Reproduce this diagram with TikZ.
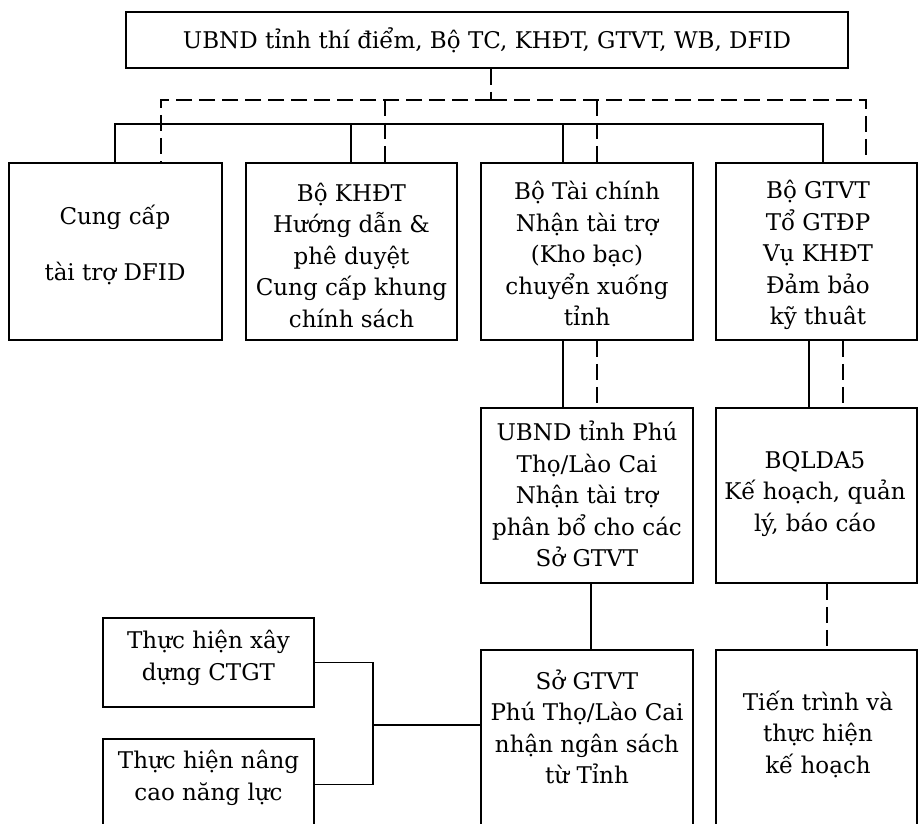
\documentclass[tikz,border=0pt]{standalone}
\usepackage{fontspec}
\setmainfont{DejaVu Serif}
\begin{document}
\begin{tikzpicture}[x=1pt,y=-1pt,
  box/.style={draw=black,line width=1.8pt,rectangle,inner sep=0pt},
  lbl/.style={inner sep=0pt,align=center,font={\fontsize{23}{31.5}\selectfont}},
  sl/.style={draw=black,line width=1.8pt},
  dl/.style={draw=black,line width=1.8pt,dash pattern=on 16pt off 7pt}]
\useasboundingbox (0,0) rectangle (918,824);
\fill[white] (0,0) rectangle (918,824);
% boxes
\node[box,minimum width=722pt,minimum height=56pt] (top) at (487,40) {};
\node[box,minimum width=213pt,minimum height=177pt] (b1) at (115.5,251.5) {};
\node[box,minimum width=211pt,minimum height=177pt] (b2) at (351.5,251.5) {};
\node[box,minimum width=212pt,minimum height=177pt] (b3) at (587,251.5) {};
\node[box,minimum width=201pt,minimum height=177pt] (b4) at (816.5,251.5) {};
\node[box,minimum width=212pt,minimum height=175pt] (r2a) at (587,495.5) {};
\node[box,minimum width=201pt,minimum height=175pt] (r2b) at (816.5,495.5) {};
\node[box,minimum width=212pt,minimum height=180pt] (r3a) at (587,740) {};
\node[box,minimum width=201pt,minimum height=180pt] (r3b) at (816.5,740) {};
\node[box,minimum width=211pt,minimum height=89pt] (L1) at (208.5,662.5) {};
\node[box,minimum width=211pt,minimum height=91pt] (L2) at (208.5,784.5) {};
% texts
\node[lbl] (ttop) at (487,40) {UBND tỉnh thí điểm, Bộ TC, KHĐT, GTVT, WB, DFID};
\node[lbl] (t1) at (115,245) {Cung cấp\\[24.5pt]tài trợ DFID};
\node[lbl] (t2) at (351.5,255) {Bộ KHĐT\\Hướng dẫn \&\\phê duyệt\\Cung cấp khung\\chính sách};
\node[lbl] (t3) at (587,253.5) {Bộ Tài chính\\Nhận tài trợ\\(Kho bạc)\\chuyển xuống\\tỉnh};
\node[lbl] (t4) at (818,255) {Bộ GTVT\\Tổ GTĐP\\Vụ KHĐT\\Đảm bảo\\kỹ thuât};
\node[lbl] (t5) at (587,494) {UBND tỉnh Phú\\Thọ/Lào Cai\\Nhận tài trợ\\phân bổ cho các\\Sở GTVT};
\node[lbl] (t6) at (815,494) {BQLDA5\\Kế hoạch, quản\\lý, báo cáo};
\node[lbl] (t7) at (587,727) {Sở GTVT\\Phú Thọ/Lào Cai\\nhận ngân sách\\từ Tỉnh};
\node[lbl] (t8) at (818,734) {Tiến trình và\\thực hiện\\kế hoạch};
\node[lbl] (t9) at (208.5,658) {Thực hiện xây\\dựng CTGT};
\node[lbl] (t10) at (208.5,778) {Thực hiện nâng\\cao năng lực};
% bus coordinates
\coordinate (ds) at (491,100);
\coordinate (d1) at (161,100);
\coordinate (d2) at (385,100);
\coordinate (d3) at (597,100);
\coordinate (d4) at (866,100);
\coordinate (s1) at (115,124);
\coordinate (s2) at (351,124);
\coordinate (s3) at (563,124);
\coordinate (s4) at (823,124);
% solid bus
\draw[sl] (s1 |- b1.north) -- (s1) -- (s4) -- (s4 |- b4.north);
\draw[sl] (s2) -- (s2 |- b2.north);
\draw[sl] (s3) -- (s3 |- b3.north);
% dashed bus
\draw[dl] (ds |- top.south) -- (ds);
\draw[dl] (ds) -- (d1) -- (d1 |- b1.north);
\draw[dl] (ds) -- (d4) -- (d4 |- b4.north);
\draw[dl] (d2) -- (d2 |- b2.north);
\draw[dl] (d3) -- (d3 |- b3.north);
% row1 -> row2
\coordinate (v1) at (563,0);
\coordinate (v2) at (597,0);
\coordinate (v3) at (809,0);
\coordinate (v4) at (843,0);
\draw[sl] (v1 |- b3.south) -- (v1 |- r2a.north);
\draw[dl] (v2 |- b3.south) -- (v2 |- r2a.north);
\draw[sl] (v3 |- b4.south) -- (v3 |- r2b.north);
\draw[dl] (v4 |- b4.south) -- (v4 |- r2b.north);
% row2 -> row3
\coordinate (v5) at (591,0);
\coordinate (v6) at (827,0);
\draw[sl] (v5 |- r2a.south) -- (v5 |- r3a.north);
\draw[dl] (v6 |- r2b.south) -- (v6 |- r3b.north);
% left bracket
\coordinate (jx) at (373,725);
\draw[sl] (L1.east) -| (jx) |- (L2.east);
\draw[sl] (jx) -- (jx -| r3a.west);
\end{tikzpicture}
\end{document}
